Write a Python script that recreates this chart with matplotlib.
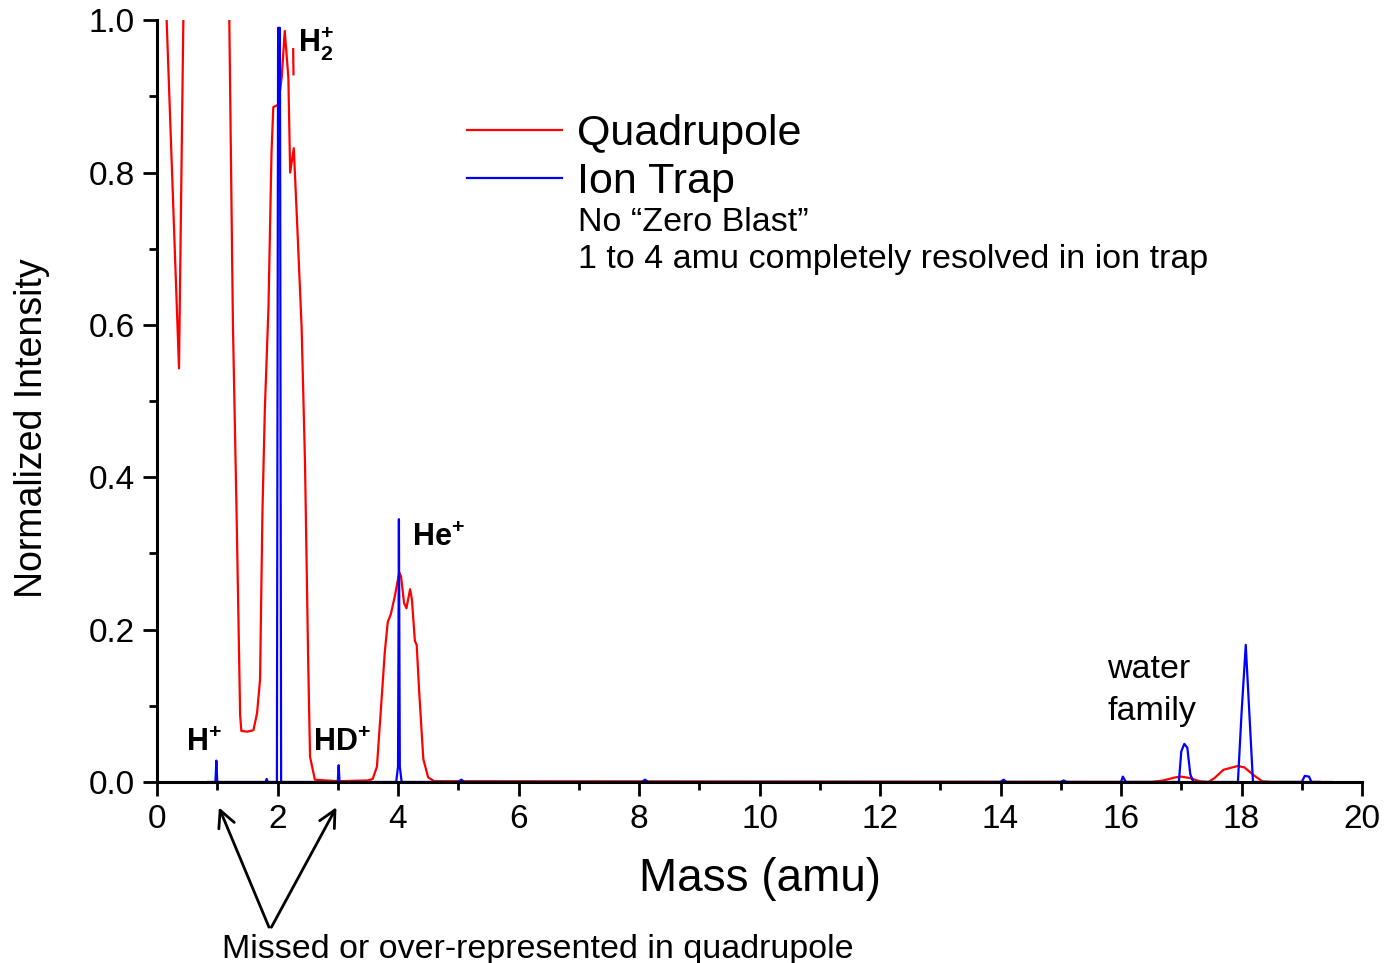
import numpy as np
import matplotlib
matplotlib.use('Agg')
import matplotlib.pyplot as plt
from matplotlib.ticker import MultipleLocator

plt.rcParams['font.family'] = ['Liberation Sans', 'DejaVu Sans']
plt.rcParams['mathtext.fontset'] = 'custom'
plt.rcParams['mathtext.rm'] = 'Liberation Sans'
plt.rcParams['mathtext.bf'] = 'Liberation Sans:bold'

# Quadrupole trace (nan = gap; >1 runs off the top)
quad_mass = [0.10, 0.16, 0.365, 0.437, 0.50,
             1.15, 1.20, 1.26, 1.32, 1.38, 1.40, 1.50, 1.60, 1.66, 1.71, 1.75,
             1.79, 1.85, 1.90, 1.93, 2.01, 2.07, 2.12, 2.18, 2.21, 2.27, 2.32,
             2.40, 2.456, 2.51, 2.54, 2.62, 3.0, 3.50,
             3.58, 3.65, 3.72, 3.78, 3.83, 3.88, 3.95, 4.02, 4.05, 4.10, 4.14,
             4.20, 4.23, 4.28, 4.31, 4.35, 4.42, 4.50, 4.60,
             16.5, 16.7, 16.9, 17.0, 17.15, 17.3, 17.45, 17.55, 17.7, 17.94,
             18.05, 18.2, 18.34, 18.5, 19.5,
             np.nan, 2.26, 2.265]
quad_int = [1.30, 1.00, 0.543, 1.00, 1.30,
            1.30, 1.00, 0.60, 0.355, 0.087, 0.067, 0.066, 0.068, 0.09, 0.134, 0.355,
            0.49, 0.623, 0.825, 0.886, 0.889, 0.925, 0.986, 0.925, 0.80, 0.832, 0.744,
            0.597, 0.42, 0.154, 0.033, 0.003, 0.001, 0.002,
            0.004, 0.02, 0.10, 0.17, 0.21, 0.22, 0.245, 0.275, 0.27, 0.235, 0.228,
            0.253, 0.24, 0.185, 0.18, 0.12, 0.03, 0.006, 0.001,
            0.0, 0.002, 0.006, 0.007, 0.005, 0.001, 0.0, 0.005, 0.016, 0.021,
            0.019, 0.009, 0.001, 0.0, 0.0,
            np.nan, 0.962, 0.929]

# Ion trap trace
trap_mass = [0.85, 0.97, 0.985, 1.00, 1.80, 1.82, 1.84, 1.99, 2.01, 2.04, 2.06,
             3.00, 3.015, 3.03, 3.97, 4.00, 4.015, 4.03, 4.06,
             5.00, 5.05, 5.10, 8.05, 8.10, 8.15, 14.0, 14.05, 14.1,
             15.0, 15.05, 15.1, 16.0, 16.03, 16.08,
             16.96, 17.0, 17.05, 17.1, 17.15, 17.2,
             17.94, 18.0, 18.07, 18.13, 18.19,
             19.0, 19.05, 19.12, 19.16, 19.3]
trap_int = [0.0, 0.0, 0.028, 0.0, 0.0, 0.004, 0.0, 0.0, 0.99, 0.99, 0.0,
            0.0, 0.022, 0.0, 0.0, 0.02, 0.345, 0.02, 0.0,
            0.0, 0.003, 0.0, 0.0, 0.003, 0.0, 0.0, 0.003, 0.0,
            0.0, 0.002, 0.0, 0.0, 0.007, 0.0,
            0.0, 0.04, 0.05, 0.045, 0.01, 0.0,
            0.0, 0.09, 0.18, 0.09, 0.0,
            0.0, 0.008, 0.007, 0.0, 0.0]

x_ticks = list(range(0, 21, 2))
y_ticks = [0.0, 0.2, 0.4, 0.6, 0.8, 1.0]

fig = plt.figure(figsize=(13.87, 9.63), dpi=100)
ax = fig.add_axes([0.1132, 0.188, 0.8688, 0.791])

ax.plot(quad_mass, quad_int, color='#ff0000', lw=1.6, label='Quadrupole')
ax.plot(trap_mass, trap_int, color='#0000ff', lw=1.6, label='Ion Trap')

ax.set_xlim(0, 20)
ax.set_ylim(0, 1.0)
ax.set_xticks(x_ticks)
ax.set_yticks(y_ticks)
ax.set_yticklabels([f'{v:.1f}' for v in y_ticks])
ax.xaxis.set_minor_locator(MultipleLocator(1))
ax.yaxis.set_minor_locator(MultipleLocator(0.1))
ax.tick_params(which='major', direction='out', length=10, width=2, labelsize=24, pad=6)
ax.tick_params(which='minor', direction='out', length=6, width=2)
for s in ['top', 'right']:
    ax.spines[s].set_visible(False)
for s in ['left', 'bottom']:
    ax.spines[s].set_linewidth(2.2)

ax.set_xlabel('Mass (amu)', fontsize=33, labelpad=16)
ax.set_ylabel('Normalized Intensity', fontsize=27)
ax.yaxis.set_label_coords(-0.089, 0.465)

ax.legend(loc='upper left', bbox_to_anchor=(0.243, 0.90), frameon=False,
          fontsize=31, handlelength=2.2, handletextpad=0.35, labelspacing=0.2,
          borderaxespad=0)

ax.text(6.99, 0.735, 'No \u201cZero Blast\u201d', fontsize=24.5, va='center')
ax.text(6.99, 0.686, '1 to 4 amu completely resolved in ion trap', fontsize=24.5, va='center')

ax.text(2.34, 0.97, r'$\mathbf{H_2^{+}}$', fontsize=22, va='center')
ax.text(4.23, 0.32, r'$\mathbf{He}^{\mathbf{+}}$', fontsize=22, va='center')
ax.text(0.48, 0.051, r'$\mathbf{H}^{\mathbf{+}}$', fontsize=22, va='center')
ax.text(2.59, 0.051, r'$\mathbf{HD}^{\mathbf{+}}$', fontsize=22, va='center')
ax.text(15.77, 0.147, 'water', fontsize=24.5, va='center')
ax.text(15.77, 0.092, 'family', fontsize=24.5, va='center')

for tip in [1.01, 3.0]:
    ax.annotate('', xy=(tip, -0.030), xytext=(1.876, -0.194),
                arrowprops=dict(arrowstyle='->', lw=2, color='black', mutation_scale=30),
                annotation_clip=False)
fig.text(0.388, 0.014, 'Missed or over-represented in quadrupole', fontsize=24.5,
         ha='center', va='center')

fig.savefig('out.png', dpi=100)
